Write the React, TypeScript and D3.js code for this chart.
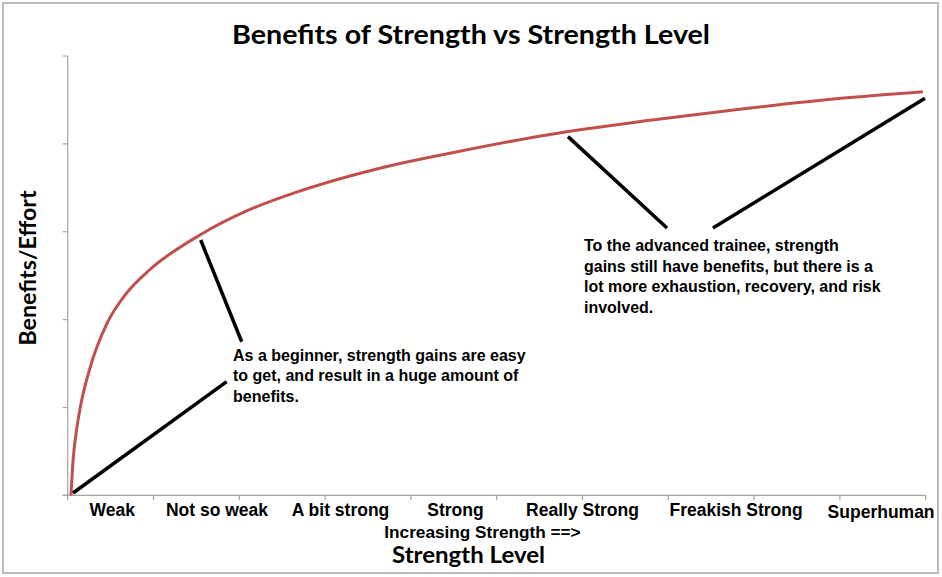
import React from "react";
import * as d3 from "d3";

// ---- Data ----
const chartTitle = "Benefits of Strength vs Strength Level";
const xAxisTitle = "Strength Level";
const xAxisSubTitle = "Increasing Strength ==>";
const yAxisTitle = "Benefits/Effort";

const categories = ["Weak", "Not so weak", "A bit strong", "Strong", "Really Strong", "Freakish Strong", "Superhuman"];
const categoryPos = [0.52, 1.74, 3.18, 4.52, 6.0, 7.79, 9.48];

const xTickValues = [0, 1, 2, 3, 4, 5, 6, 7, 8, 9, 10];
const yTickValues = [0, 1, 2, 3, 4, 5];

const curveX = [0.038, 0.065, 0.097, 0.143, 0.26, 0.455, 0.688, 0.959, 1.542, 2.125, 2.707, 3.29, 3.873, 4.456, 5.621, 6.787, 7.952, 9.117, 9.968];
const curveY = [0, 0.425, 0.698, 0.982, 1.449, 1.95, 2.303, 2.57, 2.963, 3.253, 3.463, 3.634, 3.776, 3.894, 4.107, 4.268, 4.408, 4.527, 4.594];

// pointer lines: [x1, y1, x2, y2] in data units
const pointerLines = [
  [1.55, 2.906, 2.028, 1.748],
  [0.062, 0.026, 1.853, 1.293],
  [5.831, 4.082, 6.985, 3.042],
  [7.52, 3.042, 9.992, 4.519],
];

const note1Pos = [1.927, 1.529];
const note1Lines = ["As a beginner, strength gains are easy", "to get, and result in a huge amount of", "benefits."];
const note2Pos = [6.017, 2.781];
const note2Lines = [
  "To the advanced trainee, strength",
  "gains still have benefits, but there is a",
  "lot more exhaustion, recovery, and risk",
  "involved.",
];

export default function App() {
  const W = 942, H = 577;
  const x = d3.scaleLinear().domain([0, 10]).range([67.7, 925.7]);
  const y = d3.scaleLinear().domain([0, 5]).range([495.3, 56]);
  const pts: [number, number][] = curveX.map((v, i) => [v, curveY[i]]);
  const line = d3.line<[number, number]>().x(d => x(d[0])).y(d => y(d[1])).curve(d3.curveMonotoneX);
  const axisColor = "#a6a6a6";
  const sans = "'Liberation Sans', Arial, sans-serif";
  const head = "Lato, 'Open Sans', sans-serif";
  const y0 = y(0);
  const x0 = x(0);

  return (
    <svg width={W} height={H} style={{ position: "absolute", left: 0, top: 0, background: "#fff" }}>
      <rect x={0} y={0} width={W} height={H} fill="#fff" />
      <rect x={3} y={3} width={935} height={570} fill="none" stroke="#bcbcbc" strokeWidth={2} />
      <text x={471} y={43.5} textAnchor="middle" fontFamily={head} fontWeight={700} fontSize={26}
        textLength={478} lengthAdjust="spacingAndGlyphs" fill="#000">{chartTitle}</text>

      {/* axes */}
      <line x1={x0} x2={x0} y1={y(5)} y2={y0} stroke={axisColor} strokeWidth={1.2} />
      {yTickValues.map(t => (
        <line key={"yt" + t} x1={x0 - 5} x2={x0} y1={y(t)} y2={y(t)} stroke={axisColor} strokeWidth={1.2} />
      ))}
      <line x1={x0 - 5} x2={x(10)} y1={y0} y2={y0} stroke={axisColor} strokeWidth={1.2} />
      {xTickValues.map(t => (
        <line key={"xt" + t} x1={x(t)} x2={x(t)} y1={y0} y2={y0 + 5} stroke={axisColor} strokeWidth={1.2} />
      ))}

      {categories.map((c, i) => (
        <text key={c} x={x(categoryPos[i])} y={i === categories.length - 1 ? 517.5 : 515.5} textAnchor="middle"
          fontFamily={sans} fontWeight={700} fontSize={17.5} fill="#000">{c}</text>
      ))}
      <text x={482.5} y={537.5} textAnchor="middle" fontFamily={sans} fontWeight={700} fontSize={17.2} fill="#000">{xAxisSubTitle}</text>
      <text x={468.5} y={563} textAnchor="middle" fontFamily={head} fontWeight={700} fontSize={22}
        textLength={153} lengthAdjust="spacingAndGlyphs" fill="#000">{xAxisTitle}</text>
      <text transform={`translate(36,268) rotate(-90)`} textAnchor="middle" fontFamily={head} fontWeight={700} fontSize={22}
        textLength={155} lengthAdjust="spacingAndGlyphs" fill="#000">{yAxisTitle}</text>

      {/* curve */}
      <path d={line(pts) || ""} fill="none" stroke="#C0504D" strokeWidth={3} strokeLinejoin="round" />

      {/* pointers */}
      {pointerLines.map((l, i) => (
        <line key={"pl" + i} x1={x(l[0])} y1={y(l[1])} x2={x(l[2])} y2={y(l[3])} stroke="#000" strokeWidth={3.5} />
      ))}

      {note1Lines.map((s, i) => (
        <text key={"n1" + i} x={x(note1Pos[0])} y={y(note1Pos[1]) + i * 20.4} fontFamily={sans} fontWeight={700}
          fontSize={16} fill="#000">{s}</text>
      ))}
      {note2Lines.map((s, i) => (
        <text key={"n2" + i} x={x(note2Pos[0])} y={y(note2Pos[1]) + i * 20.6} fontFamily={sans} fontWeight={700}
          fontSize={16} fill="#000">{s}</text>
      ))}
    </svg>
  );
}
